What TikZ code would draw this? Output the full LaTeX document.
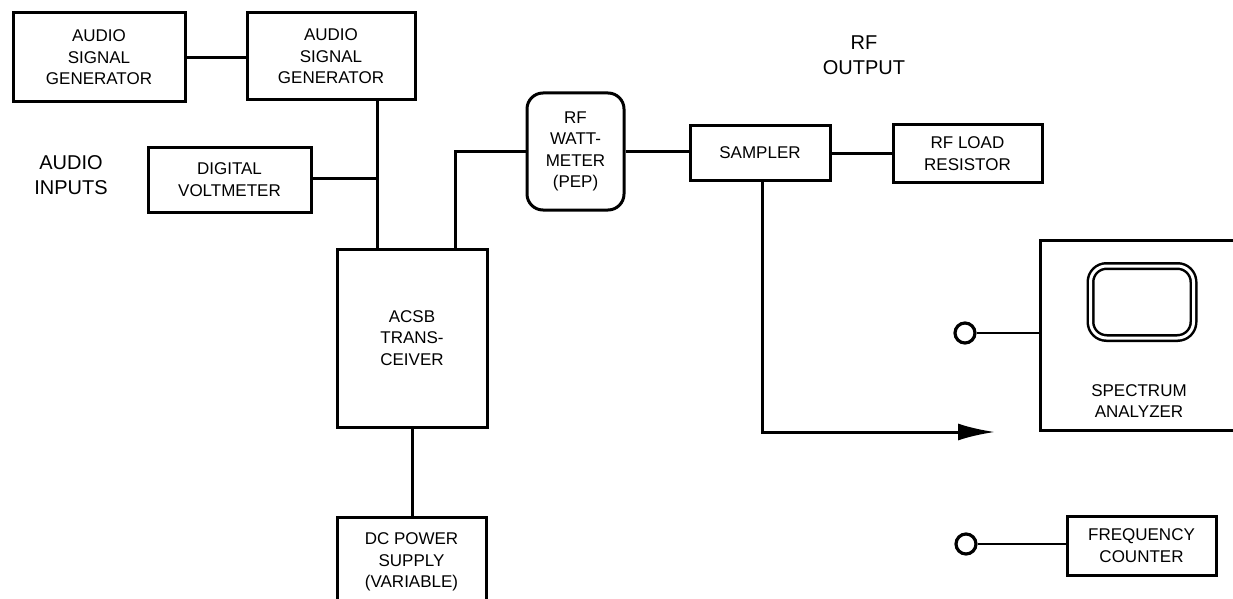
\documentclass[tikz,border=0pt]{standalone}
\usepackage{fontspec}
\setmainfont{Liberation Sans}
\usetikzlibrary{arrows.meta}
\tikzset{
  blk/.style={draw, line width=3pt, align=center, inner sep=0pt,
    font=\fontsize{17}{21.5}\selectfont},
  wire/.style={line width=3pt},
  lbl/.style={align=center, inner sep=0pt, font=\fontsize{20}{24.5}\selectfont},
  term/.style={circle, draw, line width=3.2pt, minimum size=20pt, inner sep=0pt},
}
\begin{document}
\begin{tikzpicture}[x=1pt, y=-1pt]
\useasboundingbox (0,0) rectangle (1233,599);
\clip (0,0) rectangle (1233,599);

% blocks
\node[blk, minimum width=172pt, minimum height=89pt] (asg1) at (99,57.5) {AUDIO\\SIGNAL\\GENERATOR};
\node[blk, minimum width=168pt, minimum height=87pt] (asg2) at (331,56.5) {AUDIO\\SIGNAL\\GENERATOR};
\node[blk, minimum width=163pt, minimum height=65pt] (dvm) at (229.5,179.5) {DIGITAL\\VOLTMETER};
\node[blk, minimum width=150pt, minimum height=178pt] (acsb) at (412,338) {ACSB\\TRANS-\\CEIVER};
\node[blk, minimum width=149pt, minimum height=90pt] (dc) at (411.5,562) {DC POWER\\SUPPLY\\(VARIABLE)};
\node[blk, rounded corners=16pt, minimum width=97pt, minimum height=117pt] (wm) at (575.5,151.5) {RF\\WATT-\\METER\\(PEP)};
\node[blk, minimum width=140pt, minimum height=54pt] (smp) at (760,153) {SAMPLER};
\node[blk, minimum width=149pt, minimum height=57pt] (load) at (967.5,153.5) {RF LOAD\\RESISTOR};
\node[blk, minimum width=204pt, minimum height=190pt] (spec) at (1142,335) {};
\node[draw, line width=2.5pt, double=white, double distance=3pt, rounded corners=16pt,
      minimum width=103pt, minimum height=72pt, inner sep=0pt] (screen) at (1142,302) {};
\node[align=center, inner sep=0pt, font=\fontsize{17}{21.5}\selectfont] (speclbl) at (1139,401) {SPECTRUM\\ANALYZER};
\node[blk, minimum width=149pt, minimum height=59pt] (fc) at (1141.5,545.5) {FREQUENCY\\COUNTER};

% free labels
\node[lbl] (ain) at (71,175) {AUDIO\\INPUTS};
\node[lbl] (rfo) at (864,55) {RF\\OUTPUT};

% terminals
\node[term] (t1) at (965,333) {};
\node[term] (t2) at (966,544) {};

% junction coordinates
\coordinate (j1) at (377,178);
\coordinate (c2) at (455,152);
\coordinate (c3) at (762,432);
\coordinate (tip) at (995,432);

% connectors
\draw[wire] (asg1.east) -- (asg1.east -| asg2.west);
\draw[wire] (asg2.south -| j1) -- (acsb.north -| j1);
\draw[wire] (dvm.east |- j1) -- (j1);
\draw[wire] (acsb.north -| c2) |- (wm.west);
\draw[wire] (wm.east) -- (wm.east -| smp.west);
\draw[wire] (smp.east) -- (smp.east -| load.west);
\draw[wire] (acsb.south) -- (acsb.south |- dc.north);
\draw[wire, -{Latex[length=37pt, width=17pt]}] (smp.south -| c3) -- (c3) -- (tip);
\draw[wire, line width=2.4pt] (t1.east) -- (t1.east -| spec.west);
\draw[wire, line width=2.4pt] (t2.east) -- (t2.east -| fc.west);
\end{tikzpicture}
\end{document}
